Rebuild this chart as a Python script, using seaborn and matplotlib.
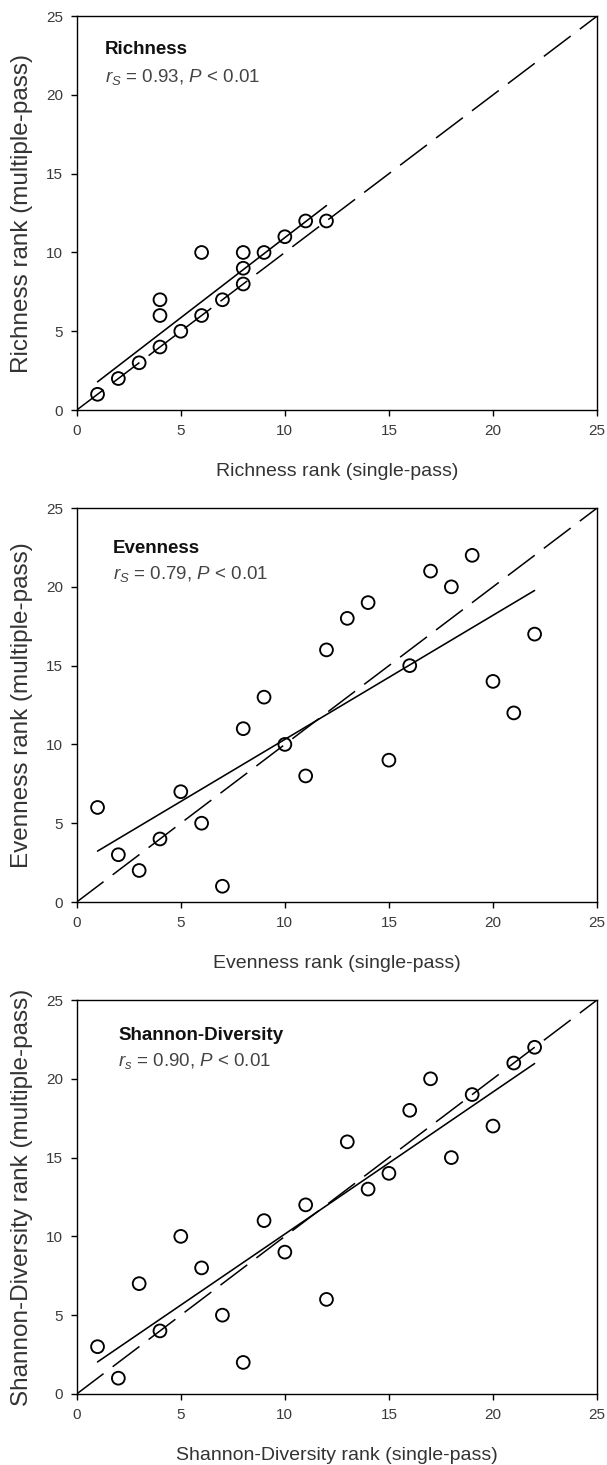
import matplotlib
matplotlib.use("Agg")
import matplotlib.pyplot as plt
import seaborn as sns
import pandas as pd

# rank pairs (single-pass, multiple-pass)
richness_single = [1, 2, 3, 4, 4, 4, 5, 6, 6, 7, 8, 8, 8, 9, 10, 11, 12]
richness_multi = [1, 2, 3, 4, 6, 7, 5, 6, 10, 7, 8, 9, 10, 10, 11, 12, 12]

evenness_single = [1, 2, 3, 4, 5, 6, 7, 8, 9, 10, 11, 12, 13, 14, 15, 16, 17, 18, 19, 20, 21, 22]
evenness_multi = [6, 3, 2, 4, 7, 5, 1, 11, 13, 10, 8, 16, 18, 19, 9, 15, 21, 20, 22, 14, 12, 17]

shannon_single = [1, 2, 3, 4, 5, 6, 7, 8, 9, 10, 11, 12, 13, 14, 15, 16, 17, 18, 19, 20, 21, 22]
shannon_multi = [3, 1, 7, 4, 10, 8, 5, 2, 11, 9, 12, 6, 16, 13, 14, 18, 20, 15, 19, 17, 21, 22]

ticks = [0, 5, 10, 15, 20, 25]

sns.set_theme(style="ticks")
plt.rcParams['font.family'] = ['Liberation Sans', 'DejaVu Sans']
plt.rcParams['mathtext.fontset'] = 'custom'
plt.rcParams['mathtext.rm'] = 'Liberation Sans'
plt.rcParams['mathtext.it'] = 'Liberation Sans:italic'


def draw_panel(ax, xs, ys, title, stat, xlabel, ylabel, tx, ty):
    df = pd.DataFrame({'single': xs, 'multi': ys})

    # 1:1 reference line
    ax.axline((0, 0), slope=1, color='black', lw=1.1,
              linestyle=(0, (22, 7.5)), zorder=1)

    # fitted line over the data range
    sns.regplot(data=df, x='single', y='multi', ax=ax, ci=None,
                scatter=False, truncate=True,
                line_kws=dict(color='black', lw=1.15, zorder=2))

    sns.scatterplot(data=df, x='single', y='multi', ax=ax, s=85,
                    facecolor='none', edgecolor='black', linewidth=1.35,
                    zorder=3)

    ax.set_xlim(0, 25)
    ax.set_ylim(0, 25)
    ax.set_xticks(ticks)
    ax.set_yticks(ticks)
    ax.tick_params(direction='out', length=4, width=1, pad=6,
                   labelsize=11, labelcolor='#3a3a3a', color='black')
    for sp in ax.spines.values():
        sp.set_color('black')
        sp.set_linewidth(1)

    ax.set_xlabel(xlabel, fontsize=14, color='#333333', labelpad=18)
    ax.set_ylabel(ylabel, fontsize=17.5, color='#333333', labelpad=9)

    ax.text(tx, ty[0], title, transform=ax.transAxes, fontsize=13.5,
            fontweight='bold', va='center', color='#111111')
    ax.text(tx, ty[1], stat, transform=ax.transAxes, fontsize=13.5,
            va='center', color='#444444')


fig = plt.figure(figsize=(6.07, 14.65), dpi=100, facecolor='white')

left, width, height = 0.1264, 0.8572, 0.2689
ax1 = fig.add_axes([left, 0.7201, width, height])
ax2 = fig.add_axes([left, 0.3843, width, height])
ax3 = fig.add_axes([left, 0.0485, width, height])

draw_panel(ax1, richness_single, richness_multi, 'Richness',
           r'$r_S$ = 0.93, $P$ < 0.01',
           'Richness rank (single-pass)', 'Richness rank (multiple-pass)',
           0.054, (0.916, 0.845))
draw_panel(ax2, evenness_single, evenness_multi, 'Evenness',
           r'$r_S$ = 0.79, $P$ < 0.01',
           'Evenness rank (single-pass)', 'Evenness rank (multiple-pass)',
           0.070, (0.898, 0.832))
draw_panel(ax3, shannon_single, shannon_multi, 'Shannon-Diversity',
           r'$r_s$ = 0.90, $P$ < 0.01',
           'Shannon-Diversity rank (single-pass)',
           'Shannon-Diversity rank (multiple-pass)',
           0.080, (0.911, 0.845))

fig.savefig('out.png', dpi=100, facecolor='white')
plt.close(fig)
